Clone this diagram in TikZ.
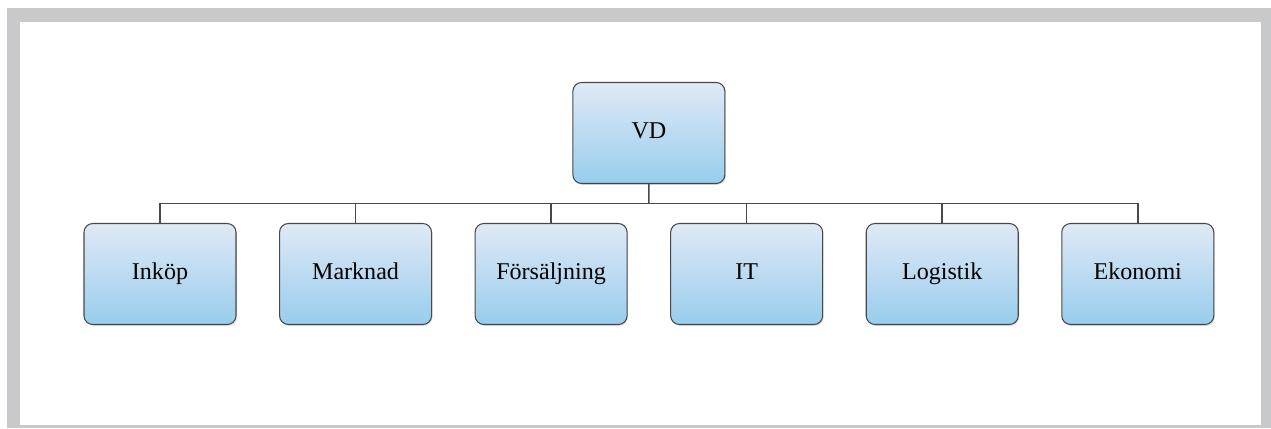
\documentclass[tikz,border=0pt]{standalone}
\usepackage{fontspec}
\setmainfont{Liberation Serif}
\usepackage{tikz}
\usetikzlibrary{positioning,calc,shadows}

\definecolor{framegray}{RGB}{200,201,203}
\definecolor{boxtop}{RGB}{224,233,246}
\definecolor{boxbottom}{RGB}{152,205,237}
\definecolor{linegray}{RGB}{72,72,72}

\begin{document}
\begin{tikzpicture}[
  font=\fontsize{13.7}{16}\selectfont,
  unit/.style={draw=linegray, line width=0.6pt, rounded corners=5pt,
               top color=boxtop, bottom color=boxbottom, align=center,
               minimum width=3.04cm, minimum height=2.02cm, inner sep=2pt,
               text height=0.68em, text depth=0pt,
               drop shadow={opacity=0.25, shadow xshift=0.6pt, shadow yshift=-0.8pt}},
  conn/.style={draw=linegray, line width=0.85pt},
]
% Frame
\useasboundingbox (0,0) rectangle (25.42,8.56);
\fill[white] (0,0) rectangle (25.42,8.56);
\fill[framegray] (0.14,0) rectangle (25.42,8.40);
\fill[white] (0.40,0.06) rectangle (25.22,8.12);

% Departments
\node[unit] (inkop) at (3.2,3.08) {Inköp};
\node[unit, right=0.85cm of inkop] (marknad) {Marknad};
\node[unit, right=0.85cm of marknad] (fors) {Försäljning};
\node[unit, right=0.85cm of fors] (it) {IT};
\node[unit, right=0.85cm of it] (logistik) {Logistik};
\node[unit, right=0.85cm of logistik] (ekonomi) {Ekonomi};

% Head
\node[unit] (vd) at ($(fors)!.5!(it)+(0,2.82)$) {VD};

% Branches
\coordinate (bar) at ($(vd.south)!.5!(vd.south |- it.north)$);
\draw[conn] (vd.south) -- (bar);
\draw[conn] (bar) -| (inkop.north);
\draw[conn] (bar) -| (marknad.north);
\draw[conn] (bar) -| (fors.north);
\draw[conn] (bar) -| (it.north);
\draw[conn] (bar) -| (logistik.north);
\draw[conn] (bar) -| (ekonomi.north);
\end{tikzpicture}
\end{document}
